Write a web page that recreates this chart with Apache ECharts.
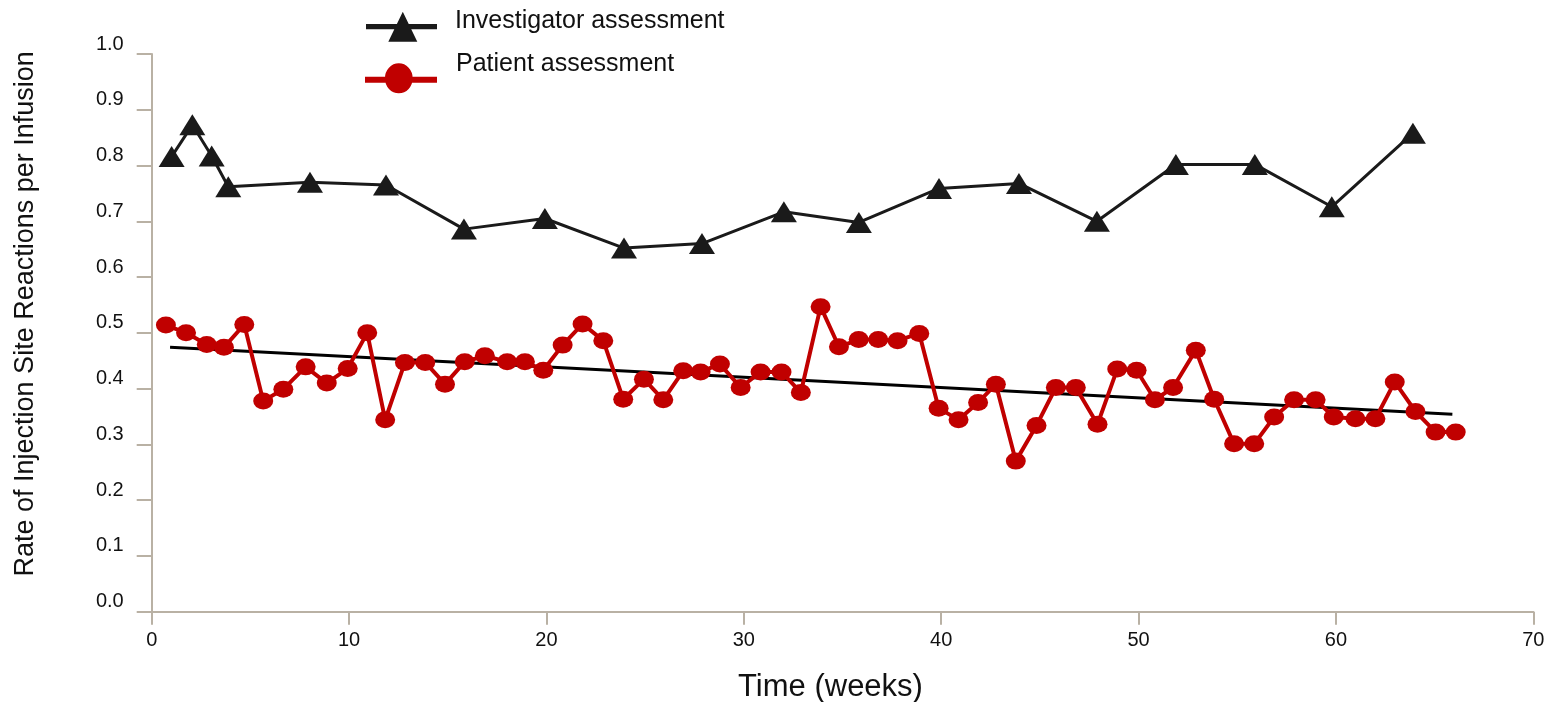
<!DOCTYPE html>
<html><head><meta charset="utf-8">
<script src="https://cdn.jsdelivr.net/npm/echarts@6/dist/echarts.min.js"></script>
<style>html,body{margin:0;padding:0;background:#fff}#c{width:1550px;height:702px}</style>
</head><body><div id="c"></div>
<script>
// ---- data ----
const investigatorWeeks = [1.01, 2.06, 3.04, 3.88, 8.02, 11.87, 15.82, 19.92, 23.93, 27.88, 32.03, 35.83, 39.89, 43.94, 47.89, 51.89, 55.89, 59.79, 63.90];
const investigatorRates = [0.816, 0.873, 0.817, 0.762, 0.770, 0.765, 0.686, 0.705, 0.652, 0.660, 0.717, 0.698, 0.759, 0.768, 0.700, 0.802, 0.802, 0.726, 0.858];

const patientWeeks = [0.72, 1.74, 2.79, 3.66, 4.69, 5.65, 6.67, 7.80, 8.87, 9.93,
  10.92, 11.83, 12.83, 13.86, 14.86, 15.86, 16.88, 18.01, 18.91, 19.84,
  20.82, 21.83, 22.88, 23.89, 24.94, 25.92, 26.93, 27.81, 28.79, 29.84,
  30.85, 31.91, 32.89, 33.89, 34.82, 35.82, 36.81, 37.79, 38.89, 39.87,
  40.88, 41.87, 42.77, 43.78, 44.83, 45.81, 46.82, 47.92, 48.92, 49.90,
  50.83, 51.75, 52.90, 53.83, 54.84, 55.86, 56.87, 57.88, 58.97, 59.89,
  60.99, 62.00, 62.98, 64.03, 65.05, 66.07];
const patientRates = [0.514, 0.500, 0.479, 0.474, 0.515, 0.378, 0.399, 0.439, 0.410, 0.436,
  0.500, 0.344, 0.447, 0.447, 0.408, 0.448, 0.459, 0.448, 0.448, 0.433,
  0.478, 0.516, 0.486, 0.381, 0.417, 0.380, 0.432, 0.430, 0.444, 0.402,
  0.430, 0.430, 0.393, 0.547, 0.475, 0.488, 0.488, 0.486, 0.499, 0.365,
  0.344, 0.375, 0.408, 0.270, 0.334, 0.402, 0.402, 0.336, 0.435, 0.433,
  0.380, 0.402, 0.469, 0.381, 0.301, 0.301, 0.349, 0.380, 0.380, 0.349,
  0.346, 0.346, 0.412, 0.359, 0.322, 0.322];

const trendWeeks = [0.93, 65.9];
const trendRates = [0.474, 0.354];

const xTickMin = 0, xTickMax = 70, xTickStep = 10;
const yTickMin = 0, yTickMax = 1, yTickStep = 0.1;

const seriesNames = ['Investigator assessment', 'Patient assessment'];
const xAxisTitle = 'Time (weeks)';
const yAxisTitle = 'Rate of Injection Site Reactions per Infusion';

// ---- build ----
const zip = (xs, ys) => xs.map((x, i) => [x, ys[i]]);
const FONT = '"Liberation Sans", Arial, Helvetica, sans-serif';
const AXIS_COLOR = '#b9b1a4';
const BLACK = '#1a1a1a';
const RED = '#c00000';
const ELLIPSE = 'path://M0,50 A50,50 0 1,1 100,50 A50,50 0 1,1 0,50 Z';
// legend icons: line + marker sitting below the text's middle (as in the reference)
const LEGEND_ICON_TRI = 'path://M0,0 L0,0 Z M0,52.3 L0,52.3 Z M0,28.6 L71,28.6 L71,33.9 L0,33.9 Z M36.8,16.3 L51.3,46.3 L22.3,46.3 Z';
const LEGEND_ICON_DOT = 'path://M0,0 L0,0 Z M0,66.6 L0,66.6 Z M0,46 L72,46 L72,52 L0,52 Z M19.9,47.6 A13.9,15 0 1,1 47.7,47.6 A13.9,15 0 1,1 19.9,47.6 Z';

const chart = echarts.init(document.getElementById('c'), null, {renderer: 'canvas'});
chart.setOption({
  animation: false,
  backgroundColor: '#ffffff',
  textStyle: {fontFamily: FONT},
  grid: {left: 151.7, right: 16.7, top: 54, bottom: 90.3, containLabel: false, outerBoundsMode: 'none'},
  legend: [
    {
      data: [{name: seriesNames[0], icon: LEGEND_ICON_TRI, itemStyle: {color: BLACK, borderWidth: 0}}],
      orient: 'vertical', left: 366, top: -4.6, padding: 0,
      itemWidth: 71, itemHeight: 52.3, symbolKeepAspect: false,
      textStyle: {fontSize: 25, color: '#111', fontFamily: FONT, padding: [0, 0, 0, 13]},
      selectedMode: false
    },
    {
      data: [{name: seriesNames[1], icon: LEGEND_ICON_DOT, itemStyle: {color: RED, borderWidth: 0}}],
      orient: 'vertical', left: 365, top: 30.7, padding: 0,
      itemWidth: 72, itemHeight: 66.6, symbolKeepAspect: false,
      textStyle: {fontSize: 25, color: '#111', fontFamily: FONT, padding: [0, 0, 0, 14]},
      selectedMode: false
    }
  ],
  xAxis: {
    type: 'value', min: xTickMin, max: xTickMax, interval: xTickStep,
    name: xAxisTitle, nameLocation: 'middle', nameGap: 60,
    nameTextStyle: {fontSize: 31, color: '#111', fontFamily: FONT, padding: [0, 24, 0, 0]},
    axisLine: {show: true, lineStyle: {color: AXIS_COLOR, width: 2}},
    axisTick: {show: true, length: 13, lineStyle: {color: AXIS_COLOR, width: 2}},
    axisLabel: {fontSize: 20, color: '#111', margin: 19, fontFamily: FONT},
    splitLine: {show: false}
  },
  yAxis: {
    type: 'value', min: yTickMin, max: yTickMax, interval: yTickStep,
    name: yAxisTitle, nameLocation: 'middle', nameGap: 113, nameRotate: 90,
    nameTextStyle: {fontSize: 27, color: '#111', fontFamily: FONT, padding: [0, 0, 0, 38]},
    axisLine: {show: true, lineStyle: {color: AXIS_COLOR, width: 2}},
    axisTick: {show: true, length: 15, lineStyle: {color: AXIS_COLOR, width: 2}},
    axisLabel: {fontSize: 20, color: '#111', margin: 28, verticalAlign: 'bottom', fontFamily: FONT,
      formatter: v => v.toFixed(1)},
    splitLine: {show: false}
  },
  series: [
    {
      name: 'trend', type: 'line', data: zip(trendWeeks, trendRates),
      symbol: 'none', silent: true, z: 1,
      lineStyle: {color: '#000000', width: 3}
    },
    {
      name: seriesNames[0], type: 'line', data: zip(investigatorWeeks, investigatorRates),
      symbol: 'triangle', symbolSize: [26, 21], z: 3,
      itemStyle: {color: BLACK},
      lineStyle: {color: BLACK, width: 3}
    },
    {
      name: seriesNames[1], type: 'line', data: zip(patientWeeks, patientRates),
      symbol: ELLIPSE, symbolSize: [20, 17], z: 2,
      itemStyle: {color: RED},
      lineStyle: {color: RED, width: 4}
    }
  ]
});
</script>
</body></html>
